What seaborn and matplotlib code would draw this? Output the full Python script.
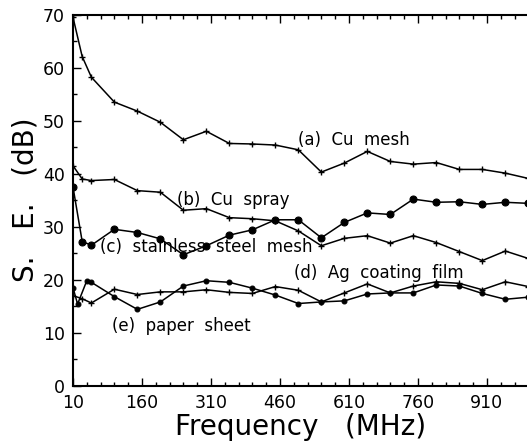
import matplotlib
matplotlib.use("Agg")
import matplotlib.pyplot as plt
import seaborn as sns
import numpy as np
import pandas as pd
from matplotlib.ticker import FixedLocator, MultipleLocator

# ---- data ----
freq_std = [10, 30, 50, 100, 150, 200, 250, 300, 350, 400, 450, 500, 550,
            600, 650, 700, 750, 800, 850, 900, 950, 1000]

cu_mesh = [69.5, 62.1, 58.2, 53.5, 51.8, 49.7, 46.4, 48.0, 45.7, 45.6, 45.4,
           44.5, 40.3, 42.0, 44.2, 42.3, 41.8, 42.1, 40.8, 40.8, 40.1, 39.1]

cu_spray = [41.5, 39.0, 38.7, 38.9, 36.8, 36.5, 33.1, 33.4, 31.7, 31.5, 31.1,
            29.2, 26.4, 27.8, 28.3, 26.9, 28.3, 27.0, 25.3, 23.6, 25.4, 24.0]

steel_mesh = [37.5, 27.2, 26.5, 29.5, 28.9, 27.7, 24.7, 26.4, 28.4, 29.4, 31.3,
              31.3, 27.9, 30.8, 32.6, 32.3, 35.2, 34.6, 34.7, 34.2, 34.6, 34.4]

freq_ag = [10, 20, 40, 50, 100, 150, 200, 250, 300, 350, 400, 450, 500, 550,
           600, 650, 700, 750, 800, 850, 900, 950, 1000]
ag_film = [18.5, 15.4, 19.8, 19.5, 16.8, 14.4, 15.8, 18.8, 19.8, 19.5, 18.4,
           17.1, 15.5, 15.8, 16.0, 17.3, 17.5, 17.5, 19.0, 18.8, 17.4, 16.3, 16.7]

freq_paper = [10, 30, 50, 100, 150, 200, 250, 300, 350, 400, 450, 500, 550,
              600, 650, 700, 750, 800, 850, 900, 950, 1000]
paper = [17.0, 16.4, 15.6, 18.2, 17.2, 17.7, 17.7, 18.1, 17.6, 17.4, 18.7,
         18.0, 15.8, 17.5, 19.2, 17.5, 18.8, 19.6, 19.3, 18.1, 19.6, 18.7]

labels = ["(a)  Cu  mesh", "(b)  Cu  spray", "(c)  stainless  steel  mesh",
          "(d)  Ag  coating  film", "(e)  paper  sheet"]
label_pos = [(500, 46.4), (237, 35.0), (68, 26.2), (490, 21.2), (94, 11.3)]

x_ticks = [10, 160, 310, 460, 610, 760, 910]
y_ticks = [0, 10, 20, 30, 40, 50, 60, 70]

# ---- plot ----
sns.set_style("ticks")
plt.rcParams["font.family"] = ["DejaVu Sans"]
plt.rcParams["text.color"] = "black"
plt.rcParams["axes.labelcolor"] = "black"
plt.rcParams["xtick.color"] = "black"
plt.rcParams["ytick.color"] = "black"

fig = plt.figure(figsize=(5.27, 4.43), dpi=100)
ax = fig.add_axes([0.1385, 0.1294, 0.864, 0.8375])

series = [
    (freq_std, cu_mesh, "+", 5, 1.0),
    (freq_std, cu_spray, "+", 4, 1.0),
    (freq_std, steel_mesh, "o", 5, 0),
    (freq_ag, ag_film, "o", 3.5, 0),
    (freq_paper, paper, "+", 4, 1.0),
]
for xs, ys, mk, ms, mew in series:
    df = pd.DataFrame({"f": xs, "se": ys})
    sns.lineplot(data=df, x="f", y="se", ax=ax, color="black", linewidth=1.1,
                 marker=mk, markersize=ms, markeredgewidth=mew if mew else 0.8,
                 markeredgecolor="black", markerfacecolor="black", sort=False,
                 estimator=None)

for txt, (xp, yp) in zip(labels, label_pos):
    ax.text(xp, yp, txt, fontsize=12, va="center", ha="left", color="black")

ax.set_xlim(10, 1000)
ax.set_ylim(0, 70)
ax.xaxis.set_major_locator(FixedLocator(x_ticks))
ax.xaxis.set_minor_locator(FixedLocator(list(range(10, 1000, 30))))
ax.yaxis.set_major_locator(FixedLocator(y_ticks))
ax.yaxis.set_minor_locator(MultipleLocator(5))
ax.set_xticklabels([str(t) for t in x_ticks])
ax.set_yticklabels([str(t) for t in y_ticks])

ax.tick_params(which="both", direction="in", top=True, right=False,
               color="black", width=1.0, labelcolor="black")
ax.tick_params(which="major", length=6, labelsize=12.5, pad=6)
ax.tick_params(which="minor", length=3)
for s in ["left", "bottom", "top"]:
    ax.spines[s].set_linewidth(1.5)
    ax.spines[s].set_color("black")
ax.spines["right"].set_visible(False)

ax.set_xlabel("Frequency   (MHz)", fontsize=20, labelpad=1, color="black")
ax.set_ylabel("S.   E.   (dB)", fontsize=20, labelpad=2, color="black")

fig.savefig("out.png", dpi=100)
